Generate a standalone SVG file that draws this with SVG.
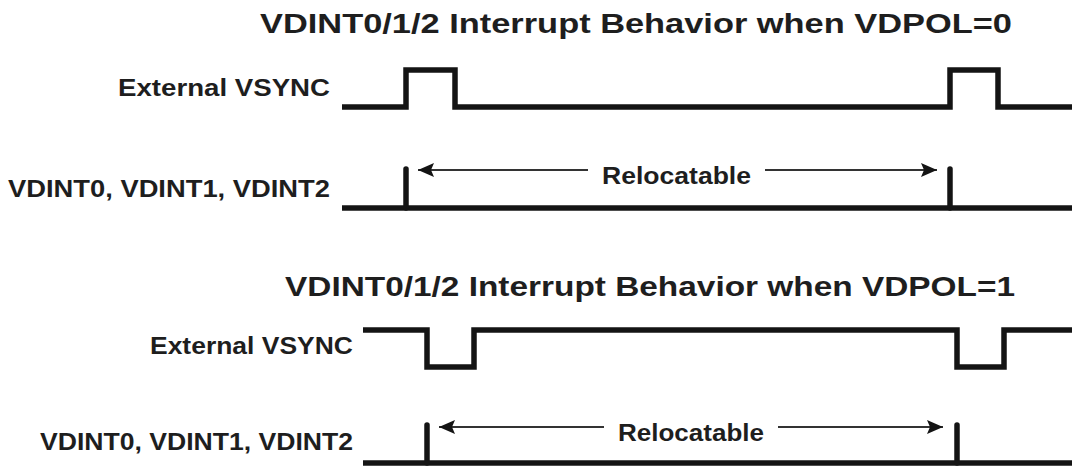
<svg xmlns="http://www.w3.org/2000/svg" width="1072" height="466" viewBox="0 0 1072 466">
<defs>
<style>
.t{font-family:"Liberation Sans",Arial,sans-serif;font-weight:bold;fill:#1e1e1e}
.title{font-size:28px}
.lbl{font-size:24px}
.w{fill:none;stroke:#141414;stroke-width:5.5;stroke-linejoin:miter}
.p{stroke:#141414;stroke-width:5.5;stroke-linecap:round}
.a{stroke:#333;stroke-width:2;fill:none}
</style>
<marker id="ah" viewBox="0 0 16 14" refX="16" refY="7" markerWidth="16" markerHeight="14" markerUnits="userSpaceOnUse" orient="auto-start-reverse">
<path d="M0,0 L16,7 L0,14 L3,7 Z" fill="#141414"/>
</marker>
</defs>
<rect width="1072" height="466" fill="#fff"/>
<g id="top-section">
<text class="t title" x="260" y="33" textLength="752" lengthAdjust="spacingAndGlyphs">VDINT0/1/2 Interrupt Behavior when VDPOL=0</text>
<g id="top-vsync">
<text class="t lbl" x="118" y="96" textLength="212" lengthAdjust="spacingAndGlyphs">External VSYNC</text>
<polyline class="w" points="342,107 406,107 406,70 455,70 455,107 950,107 950,70 998,70 998,107 1072,107"/>
</g>
<g id="top-vdint">
<text class="t lbl" x="8" y="197" textLength="322" lengthAdjust="spacingAndGlyphs">VDINT0, VDINT1, VDINT2</text>
<line class="w" x1="342" y1="208" x2="1072" y2="208"/>
<line class="p" x1="406" y1="208" x2="406" y2="169"/>
<line class="p" x1="950" y1="208" x2="950" y2="169"/>
</g>
</g>
<g id="bottom-section">
<text class="t title" x="285" y="296" textLength="730" lengthAdjust="spacingAndGlyphs">VDINT0/1/2 Interrupt Behavior when VDPOL=1</text>
<g id="bottom-vsync">
<text class="t lbl" x="150" y="354" textLength="203" lengthAdjust="spacingAndGlyphs">External VSYNC</text>
<polyline class="w" points="363,330 427,330 427,367 474,367 474,330 957,330 957,367 1004,367 1004,330 1072,330"/>
</g>
<g id="bottom-vdint">
<text class="t lbl" x="40" y="450" textLength="313" lengthAdjust="spacingAndGlyphs">VDINT0, VDINT1, VDINT2</text>
<line class="w" x1="363" y1="463" x2="1072" y2="463"/>
<line class="p" x1="427" y1="463" x2="427" y2="425"/>
<line class="p" x1="957" y1="463" x2="957" y2="425"/>
</g>
</g>
<g id="connectors">
<line class="a" x1="588" y1="170" x2="418" y2="170" marker-end="url(#ah)"/>
<line class="a" x1="765" y1="170" x2="937" y2="170" marker-end="url(#ah)"/>
<text class="t lbl" x="602" y="184" textLength="149" lengthAdjust="spacingAndGlyphs">Relocatable</text>
<line class="a" x1="604" y1="427" x2="439" y2="427" marker-end="url(#ah)"/>
<line class="a" x1="778" y1="427" x2="943" y2="427" marker-end="url(#ah)"/>
<text class="t lbl" x="618" y="441" textLength="146" lengthAdjust="spacingAndGlyphs">Relocatable</text>
</g>
</svg>
